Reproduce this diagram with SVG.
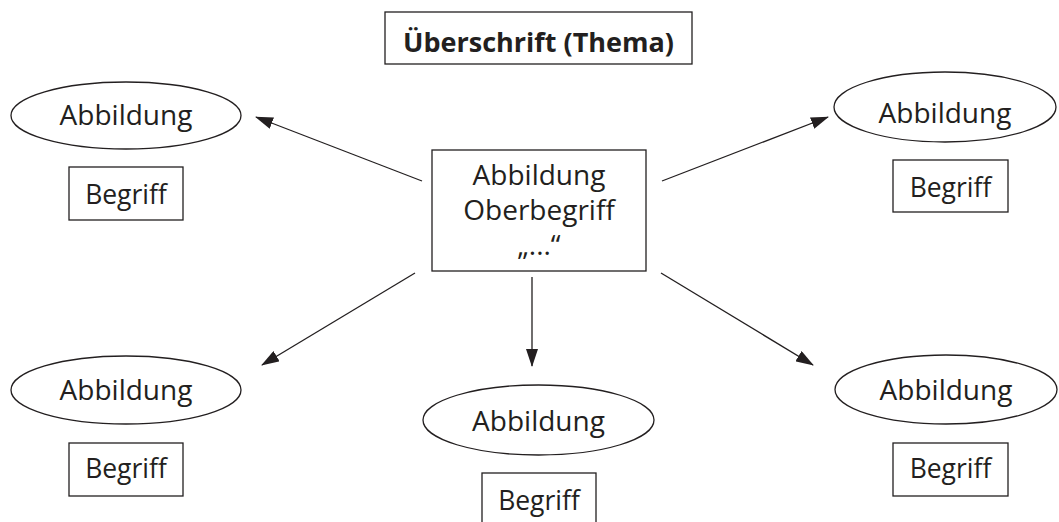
<svg xmlns="http://www.w3.org/2000/svg" width="1059" height="522" viewBox="0 0 1059 522">
<style>
.shape{fill:#fff;stroke:#231f20;stroke-width:1.3}
.lbl{font-family:"Open Sans","Liberation Sans",sans-serif;font-size:28px;fill:#231f20;text-anchor:middle}
.term{font-size:26.5px}
.title{font-weight:bold;font-size:27px}
.conn{stroke:#231f20;stroke-width:1.3;fill:none;marker-end:url(#arr)}
</style>
<defs>
<marker id="arr" markerUnits="userSpaceOnUse" markerWidth="18" markerHeight="12" viewBox="0 0 18 12" refX="17" refY="6" orient="auto">
<path d="M0,0 L18,6 L0,12 Z" fill="#231f20"/>
</marker>
</defs>
<rect width="1059" height="522" fill="#fff"/>
<g id="title">
<rect class="shape" x="385" y="12" width="307" height="52"/>
<text class="lbl title" x="538.5" y="52">Überschrift (Thema)</text>
</g>
<g id="center">
<rect class="shape" x="432" y="150" width="214" height="121"/>
<text class="lbl" x="539" y="185">Abbildung</text>
<text class="lbl" x="539" y="220">Oberbegriff</text>
<text class="lbl" x="539" y="255">„...“</text>
</g>
<g id="topleft">
<ellipse class="shape" cx="126" cy="115.5" rx="115" ry="33.5"/>
<text class="lbl" x="126" y="125">Abbildung</text>
<rect class="shape" x="69" y="167" width="114" height="53"/>
<text class="lbl term" x="126" y="204">Begriff</text>
</g>
<g id="topright">
<ellipse class="shape" cx="945" cy="107" rx="111" ry="35"/>
<text class="lbl" x="945" y="123">Abbildung</text>
<rect class="shape" x="893" y="160" width="115" height="52"/>
<text class="lbl term" x="950.5" y="197">Begriff</text>
</g>
<g id="bottomleft">
<ellipse class="shape" cx="126" cy="390" rx="115" ry="34"/>
<text class="lbl" x="126" y="400">Abbildung</text>
<rect class="shape" x="69" y="443" width="114" height="53"/>
<text class="lbl term" x="126" y="478">Begriff</text>
</g>
<g id="bottomcenter">
<ellipse class="shape" cx="538.5" cy="420" rx="115.5" ry="35"/>
<text class="lbl" x="538.5" y="431">Abbildung</text>
<rect class="shape" x="482" y="473" width="114" height="60"/>
<text class="lbl term" x="539" y="510">Begriff</text>
</g>
<g id="bottomright">
<ellipse class="shape" cx="946" cy="389.5" rx="111" ry="34.5"/>
<text class="lbl" x="946" y="400">Abbildung</text>
<rect class="shape" x="893" y="443" width="115" height="53"/>
<text class="lbl term" x="950.5" y="478">Begriff</text>
</g>
<g id="connectors">
<line class="conn" x1="422" y1="181" x2="256" y2="117"/>
<line class="conn" x1="662" y1="181" x2="828" y2="117"/>
<line class="conn" x1="415" y1="273" x2="262" y2="365"/>
<line class="conn" x1="532" y1="277" x2="532" y2="366"/>
<line class="conn" x1="661" y1="273" x2="813" y2="365"/>
</g>
</svg>
